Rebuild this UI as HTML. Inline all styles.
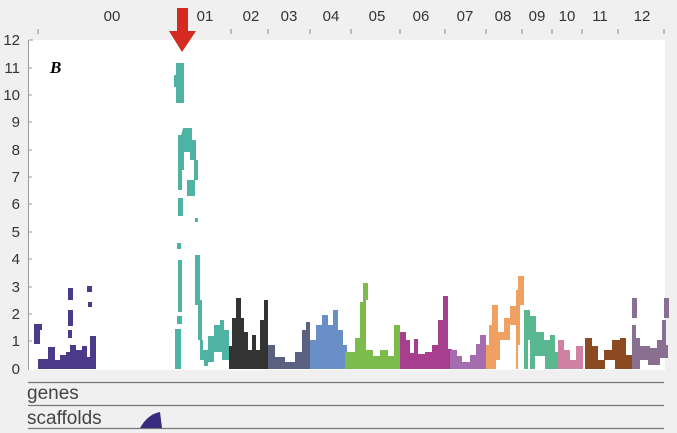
<!DOCTYPE html>
<html><head><style>
body{margin:0;background:#f0f0f0;}
svg{display:block;font-family:"Liberation Sans",sans-serif;}
</style></head><body>
<svg width="677" height="433" viewBox="0 0 677 433">
<rect width="677" height="433" fill="#f0f0f0"/>
<rect x="29" y="40" width="636" height="330" fill="#fff"/>
<!-- y axis -->
<line x1="28.5" y1="40" x2="28.5" y2="370" stroke="#999" stroke-width="1"/>
<g font-size="15" fill="#333" text-anchor="end">
<text x="20" y="45">12</text><text x="20" y="73">11</text><text x="20" y="100">10</text>
<text x="20" y="127">9</text><text x="20" y="155">8</text><text x="20" y="182">7</text>
<text x="20" y="209">6</text><text x="20" y="237">5</text><text x="20" y="264">4</text>
<text x="20" y="292">3</text><text x="20" y="319">2</text><text x="20" y="346">1</text>
<text x="20" y="374">0</text>
</g>
<g stroke="#999">
<line x1="29" y1="40" x2="33" y2="40"/><line x1="29" y1="68" x2="32" y2="68"/><line x1="29" y1="95" x2="32" y2="95"/>
<line x1="29" y1="122" x2="32" y2="122"/><line x1="29" y1="150" x2="32" y2="150"/><line x1="29" y1="177" x2="32" y2="177"/>
<line x1="29" y1="204" x2="32" y2="204"/><line x1="29" y1="232" x2="32" y2="232"/><line x1="29" y1="259" x2="32" y2="259"/>
<line x1="29" y1="287" x2="32" y2="287"/><line x1="29" y1="314" x2="32" y2="314"/><line x1="29" y1="341" x2="32" y2="341"/>
</g>
<!-- top labels -->
<g font-size="15" fill="#333" text-anchor="middle">
<text x="112" y="21">00</text><text x="205" y="21">01</text><text x="251" y="21">02</text>
<text x="289" y="21">03</text><text x="331" y="21">04</text><text x="377" y="21">05</text>
<text x="421" y="21">06</text><text x="465" y="21">07</text><text x="503" y="21">08</text>
<text x="537" y="21">09</text><text x="567" y="21">10</text><text x="600" y="21">11</text>
<text x="642" y="21">12</text>
</g>
<g stroke="#888">
<line x1="38" y1="29" x2="38" y2="34"/><line x1="231" y1="29" x2="231" y2="34"/><line x1="268" y1="29" x2="268" y2="34"/>
<line x1="310" y1="29" x2="310" y2="34"/><line x1="351" y1="29" x2="351" y2="34"/><line x1="400" y1="29" x2="400" y2="34"/>
<line x1="445" y1="29" x2="445" y2="34"/><line x1="486" y1="29" x2="486" y2="34"/><line x1="522" y1="29" x2="522" y2="34"/>
<line x1="552" y1="29" x2="552" y2="34"/><line x1="582" y1="29" x2="582" y2="34"/><line x1="618" y1="29" x2="618" y2="34"/>
<line x1="664" y1="29" x2="664" y2="34"/>
</g>
<text x="50" y="73" font-family="Liberation Serif,serif" font-weight="bold" font-style="italic" font-size="17">B</text>
<!-- series -->
<g>
<!-- purple 00 -->
<g fill="#4b3a8a">
<rect x="34" y="324" width="6" height="20"/><rect x="38" y="324" width="4" height="6"/>
<polygon points="38,369 38,359 48,359 48,347 55,347 55,360 60,360 60,355 66,355 66,352 70,352 70,345 76,345 76,350 82,350 82,346 87,346 87,357 90,357 90,346 96,346 96,369"/>
<rect x="68" y="288" width="5" height="12"/><rect x="68" y="310" width="5" height="16"/><rect x="68" y="330" width="4" height="8"/>
<rect x="87" y="286" width="5" height="6"/><rect x="88" y="302" width="4" height="5"/><rect x="90" y="336" width="6" height="14"/>
</g>
<!-- teal 01 -->
<g fill="#4fb3a4">
<rect x="176" y="63" width="8" height="40"/><rect x="174" y="75" width="4" height="12"/>
<rect x="178" y="135" width="4" height="55"/><rect x="178" y="198" width="5" height="18"/>
<rect x="177" y="243" width="4" height="6"/><rect x="178" y="260" width="4" height="52"/>
<rect x="177" y="316" width="5" height="8"/><rect x="175" y="329" width="6" height="40"/>
<polygon points="183,128 192,128 192,140 196,140 196,160 198,160 198,180 194,180 194,160 190,160 190,152 184,152 184,170 180,170 180,140"/>
<rect x="187" y="180" width="8" height="16"/><rect x="195" y="218" width="3" height="4"/>
<rect x="195" y="255" width="5" height="50"/><rect x="198" y="300" width="4" height="40"/>
<polygon points="200,340 203,340 203,350 208,350 208,336 214,336 214,325 220,325 220,320 224,320 224,330 229,330 229,360 222,360 222,352 214,352 214,362 208,362 208,366 204,366 204,360 200,360"/>
</g>
<!-- dark 02 -->
<polygon fill="#333" points="229,369 229,346 232,346 232,318 236,318 236,298 241,298 241,318 244,318 244,332 248,332 248,350 252,350 252,335 256,335 256,350 260,350 260,320 264,320 264,300 268,300 268,369"/>
<!-- slate 03 -->
<polygon fill="#5a6080" points="268,369 268,345 275,345 275,357 285,357 285,362 295,362 295,352 302,352 302,330 306,330 306,322 310,322 310,369"/>
<!-- blue 04 -->
<polygon fill="#6a8fc8" points="310,369 310,340 316,340 316,325 322,325 322,315 328,315 328,325 333,325 333,310 338,310 338,330 343,330 343,345 347,345 347,369"/>
<!-- green 05 -->
<polygon fill="#7cbc4c" points="345,369 345,352 355,352 355,338 360,338 360,302 363,302 363,283 368,283 368,300 366,300 366,350 373,350 373,356 380,356 380,350 388,350 388,356 394,356 394,325 400,325 400,369"/>
<!-- magenta 06 -->
<polygon fill="#a83e8e" points="400,369 400,332 406,332 406,340 410,340 410,353 414,353 414,339 418,339 418,354 425,354 425,352 432,352 432,345 438,345 438,320 443,320 443,296 448,296 448,349 452,349 452,369"/>
<!-- lavender 07 -->
<polygon fill="#a56db0" points="450,369 450,350 457,350 457,356 462,356 462,362 470,362 470,355 476,355 476,344 480,344 480,335 486,335 486,369"/>
<!-- orange 08 -->
<polygon fill="#f0a060" points="486,369 486,345 489,345 489,325 492,325 492,305 498,305 498,332 504,332 504,318 510,318 510,306 516,306 516,290 518,290 518,276 524,276 524,305 520,305 520,345 518,345 518,369 516,369 516,325 510,325 510,340 500,340 500,360 496,360 496,369"/>
<!-- sea green 09 -->
<polygon fill="#5ab890" points="524,369 524,310 530,310 530,316 536,316 536,332 544,332 544,340 550,340 550,335 555,335 555,352 558,352 558,369 545,369 545,356 535,356 535,369 530,369 530,340 528,340 528,369"/>
<!-- pink 10 -->
<polygon fill="#d080a0" points="558,369 558,340 564,340 564,350 570,350 570,360 576,360 576,346 583,346 583,369"/>
<!-- brown 11 -->
<polygon fill="#8b4a20" points="585,369 585,338 592,338 592,346 598,346 598,360 604,360 604,350 612,350 612,340 620,340 620,338 626,338 626,355 633,355 633,369 615,369 615,360 605,360 605,369"/>
<!-- grayish 12 -->
<polygon fill="#8a7090" points="632,369 632,325 636,325 636,338 640,338 640,346 650,346 650,348 657,348 657,340 662,340 662,320 666,320 666,345 668,345 668,358 660,358 660,365 648,365 648,360 640,360 640,369"/>
<rect x="632" y="298" width="5" height="20" fill="#8a7090"/><rect x="664" y="298" width="5" height="20" fill="#8a7090"/>
</g>
<!-- arrow -->
<polygon fill="#d42a20" points="177,8 188,8 188,31 196,31 182,52 169,31 177,31"/>
<!-- bottom tracks -->
<line x1="28" y1="382.5" x2="664" y2="382.5" stroke="#777" stroke-width="1.2"/>
<line x1="28" y1="405.5" x2="664" y2="405.5" stroke="#777" stroke-width="1.2"/>
<line x1="28" y1="428.5" x2="664" y2="428.5" stroke="#777" stroke-width="1.2"/>
<text x="27" y="399" font-size="19" fill="#444">genes</text>
<text x="27" y="424" font-size="19" fill="#444">scaffolds</text>
<path d="M140,428 Q148,414 160,412 L162,428 Z" fill="#3a2a80"/>
</svg>
</body></html>
